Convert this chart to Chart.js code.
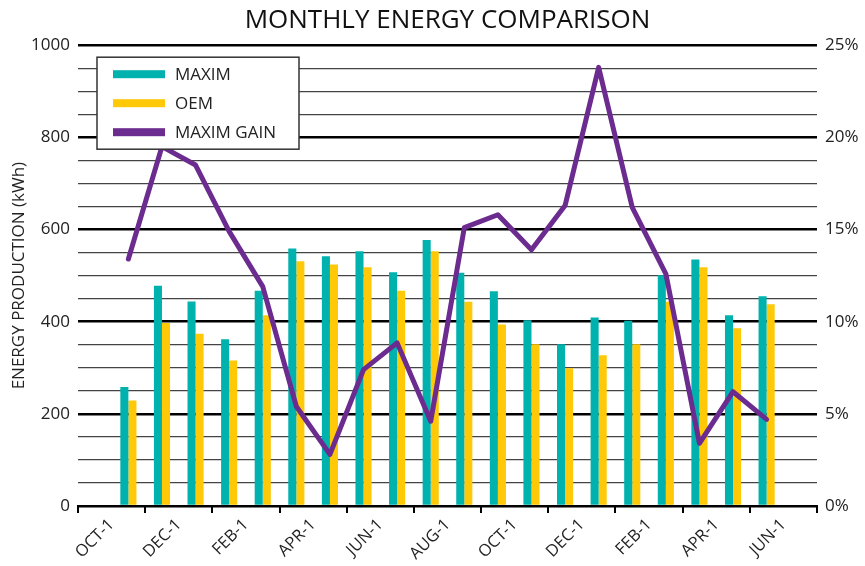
<!DOCTYPE html>
<html>
<head>
<meta charset="utf-8">
<title>Monthly Energy Comparison</title>
<script src="https://cdn.jsdelivr.net/npm/chart.js@4.4.1/dist/chart.umd.min.js"></script>
<style>
  html, body { margin: 0; padding: 0; background: #fff; }
  #wrap { width: 865px; height: 566px; position: relative; }
</style>
</head>
<body>
<div id="wrap"><canvas id="energy"></canvas></div>
<script>
// one slot per month, first and last are empty
const months = ['OCT-1', 'NOV-1', 'DEC-1', 'JAN-1', 'FEB-1', 'MAR-1', 'APR-1', 'MAY-1', 'JUN-1', 'JUL-1', 'AUG-1',
  'SEP-1', 'OCT-1', 'NOV-1', 'DEC-1', 'JAN-1', 'FEB-1', 'MAR-1', 'APR-1', 'MAY-1', 'JUN-1', 'JUL-1'];
// axis only shows every other month
const monthTicks = months.filter((m, i) => i % 2 === 0);

const maximKwh = [null, 258, 478, 444, 362, 467, 559, 542, 553, 507, 577, 506, 466, 403, 351, 409, 402, 501, 535, 414, 455, null];
const oemKwh = [null, 229, 397, 374, 316, 414, 531, 524, 518, 467, 553, 443, 394, 351, 299, 327, 351, 443, 518, 386, 438, null];
const maximGainPct = [null, 13.4, 19.5, 18.5, 14.9, 11.9, 5.4, 2.8, 7.4, 8.85, 4.6, 15.1, 15.8, 13.9, 16.3, 23.8, 16.2, 12.6, 3.4, 6.2, 4.7, null];

const TEAL = '#00B2AE';
const YELLOW = '#FFC908';
const PURPLE = '#6C2C8F';

Chart.defaults.font.family = "'Open Sans', 'Noto Sans', sans-serif";
Chart.defaults.color = '#222';

// boxed legend sitting inside the plot, on top of the line
const boxLegend = {
  id: 'boxLegend',
  afterDatasetsDraw(chart) {
    const ctx = chart.ctx;
    const area = chart.chartArea;
    const x = area.left + 19;
    const y = area.top + 12;
    ctx.save();
    ctx.fillStyle = '#fff';
    ctx.fillRect(x, y, 202, 92);
    ctx.strokeStyle = '#333';
    ctx.lineWidth = 1.5;
    ctx.strokeRect(x, y, 202, 92);
    ctx.font = "17px 'Open Sans', 'Noto Sans', sans-serif";
    ctx.textBaseline = 'middle';
    chart.data.datasets.forEach((ds, i) => {
      const cy = y + 17 + i * 29;
      ctx.fillStyle = ds.legendColor;
      ctx.fillRect(x + 16, cy - 4, 52, 8);
      ctx.fillStyle = '#222';
      ctx.fillText(ds.label, x + 78, cy + 1);
    });
    ctx.restore();
  }
};

// center the title over the plot rather than the canvas
const centerTitle = {
  id: 'centerTitle',
  afterLayout(chart) {
    if (chart.titleBlock) {
      chart.titleBlock.left = chart.chartArea.left;
      chart.titleBlock.right = chart.chartArea.right;
    }
  }
};

new Chart(document.getElementById('energy'), {
  type: 'bar',
  data: {
    labels: months,
    datasets: [
      {
        label: 'MAXIM',
        data: maximKwh,
        backgroundColor: TEAL,
        legendColor: TEAL,
        yAxisID: 'y',
        order: 1,
        categoryPercentage: 0.48,
        barPercentage: 1.0,
      },
      {
        label: 'OEM',
        data: oemKwh,
        backgroundColor: YELLOW,
        legendColor: YELLOW,
        yAxisID: 'y',
        order: 1,
        categoryPercentage: 0.48,
        barPercentage: 1.0,
      },
      {
        type: 'line',
        label: 'MAXIM GAIN',
        data: maximGainPct,
        borderColor: PURPLE,
        legendColor: PURPLE,
        borderWidth: 5,
        borderJoinStyle: 'round',
        borderCapStyle: 'round',
        pointRadius: 0,
        tension: 0,
        yAxisID: 'y1',
        order: 0,
      },
    ],
  },
  options: {
    responsive: true,
    maintainAspectRatio: false,
    animation: false,
    layout: { padding: 0 },
    plugins: {
      legend: { display: false },
      tooltip: { enabled: false },
      title: {
        display: true,
        text: 'MONTHLY ENERGY COMPARISON',
        color: '#111',
        font: { size: 26, weight: 'normal' },
        padding: { top: 5, bottom: 9 },
      },
    },
    scales: {
      x: {
        display: false,
        offset: true,
      },
      xl: {
        type: 'category',
        position: 'bottom',
        labels: monthTicks,
        offset: true,
        grid: {
          offset: true,
          drawOnChartArea: false,
          drawTicks: true,
          tickLength: 7,
          color: '#000',
          lineWidth: 2,
        },
        border: { display: true, color: '#000', width: 2 },
        ticks: {
          autoSkip: false,
          maxRotation: 45,
          minRotation: 45,
          padding: 2,
          font: { size: 16.5 },
        },
        afterFit(scale) { scale.height = 60; },
      },
      y: {
        position: 'left',
        min: 0,
        max: 1000,
        border: { display: false },
        grid: {
          drawTicks: false,
          color: (c) => (c.tick.value % 200 === 0 ? '#000' : '#444'),
          lineWidth: (c) => (c.tick.value % 200 === 0 ? 2.5 : 1.3),
        },
        ticks: {
          stepSize: 50,
          maxTicksLimit: 30,
          autoSkip: false,
          padding: 8,
          font: { size: 17 },
          callback: (v) => (v % 200 === 0 ? v : ''),
        },
        title: {
          display: true,
          text: 'ENERGY PRODUCTION (kWh)',
          color: '#222',
          font: { size: 17 },
          padding: { top: 9, bottom: 0 },
        },
        afterFit(scale) { scale.width = 78; },
      },
      y1: {
        position: 'right',
        min: 0,
        max: 25,
        border: { display: false },
        grid: { drawOnChartArea: false, drawTicks: false },
        ticks: {
          stepSize: 1.25,
          maxTicksLimit: 30,
          autoSkip: false,
          padding: 8,
          font: { size: 17 },
          callback: (v) => (v % 5 === 0 ? v + '%' : ''),
        },
        afterFit(scale) { scale.width = 48; },
      },
    },
  },
  plugins: [boxLegend, centerTitle],
});
</script>
</body>
</html>
